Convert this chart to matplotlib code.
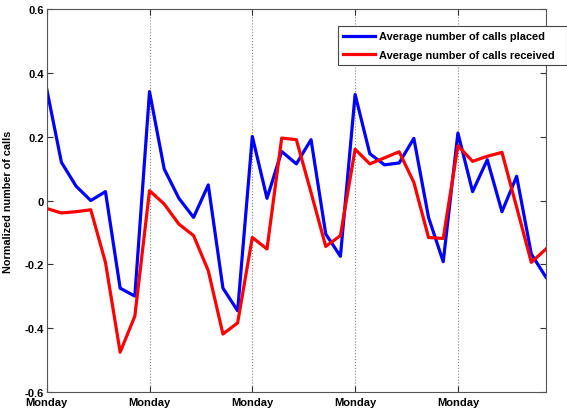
import matplotlib
matplotlib.use("Agg")
import matplotlib.pyplot as plt
import numpy as np

# daily normalized call counts, 5 weeks starting on a Monday
placed = [0.35, 0.12, 0.045, 0.0, 0.028, -0.275, -0.30,
          0.342, 0.099, 0.007, -0.053, 0.049, -0.275, -0.346,
          0.201, 0.007, 0.154, 0.115, 0.191, -0.105, -0.175,
          0.333, 0.147, 0.112, 0.118, 0.195, -0.053, -0.192,
          0.212, 0.028, 0.128, -0.035, 0.076, -0.168, -0.241]
received = [-0.025, -0.039, -0.035, -0.029, -0.194, -0.476, -0.363,
            0.031, -0.011, -0.074, -0.11, -0.22, -0.419, -0.384,
            -0.116, -0.152, 0.196, 0.191, 0.025, -0.144, -0.11,
            0.161, 0.115, 0.134, 0.153, 0.057, -0.116, -0.119,
            0.172, 0.123, 0.139, 0.151, -0.021, -0.194, -0.152]
monday_days = [0, 7, 14, 21, 28]
monday_labels = ["Monday"] * 5
yticks = [-0.6, -0.4, -0.2, 0, 0.2, 0.4, 0.6]
ytick_labels = ["-0.6", "-0.4", "-0.2", "0", "0.2", "0.4", "0.6"]

plt.rcParams['font.family'] = ['Liberation Sans', 'DejaVu Sans']

days = np.arange(len(placed))
fig = plt.figure(figsize=(5.67, 4.14), dpi=100)
ax = fig.add_axes([0.0824, 0.0514, 0.8806, 0.9236])

ax.plot(days, placed, color='#0000ff', lw=2.3, label='Average number of calls placed')
ax.plot(days, received, color='#ff0000', lw=2.3, label='Average number of calls received')

ax.set_xlim(0, len(placed) - 1)
ax.set_ylim(-0.6, 0.6)
ax.set_xticks(monday_days)
ax.set_xticklabels(monday_labels, fontweight='bold', fontsize=8)
ax.set_yticks(yticks)
ax.set_yticklabels(ytick_labels, fontweight='bold', fontsize=8)
ax.tick_params(direction='in', top=True, right=True, length=4, pad=2, color='#333333')
ax.tick_params(axis='x', pad=4)
ax.xaxis.grid(True, linestyle=':', color='#808080', lw=0.8)
for s in ax.spines.values():
    s.set_color('#555555')

ax.set_ylabel('Normalized number of calls', fontweight='bold', fontsize=7.8, labelpad=8)

# legend box sits across the upper right corner of the axes
leg = ax.legend(loc='upper left', bbox_to_anchor=(338 / 567, 1 - 68 / 414, 229 / 567, 41 / 414),
                bbox_transform=fig.transFigure, mode='expand',
                prop={'weight': 'bold', 'size': 7.9}, frameon=True, fancybox=False,
                borderaxespad=0, borderpad=0.5, handlelength=2.9, handletextpad=0.35,
                labelspacing=0.75)
leg.get_frame().set_edgecolor('#444444')
leg.get_frame().set_linewidth(0.8)
leg.get_frame().set_alpha(1)

fig.savefig('out.png', dpi=100)
